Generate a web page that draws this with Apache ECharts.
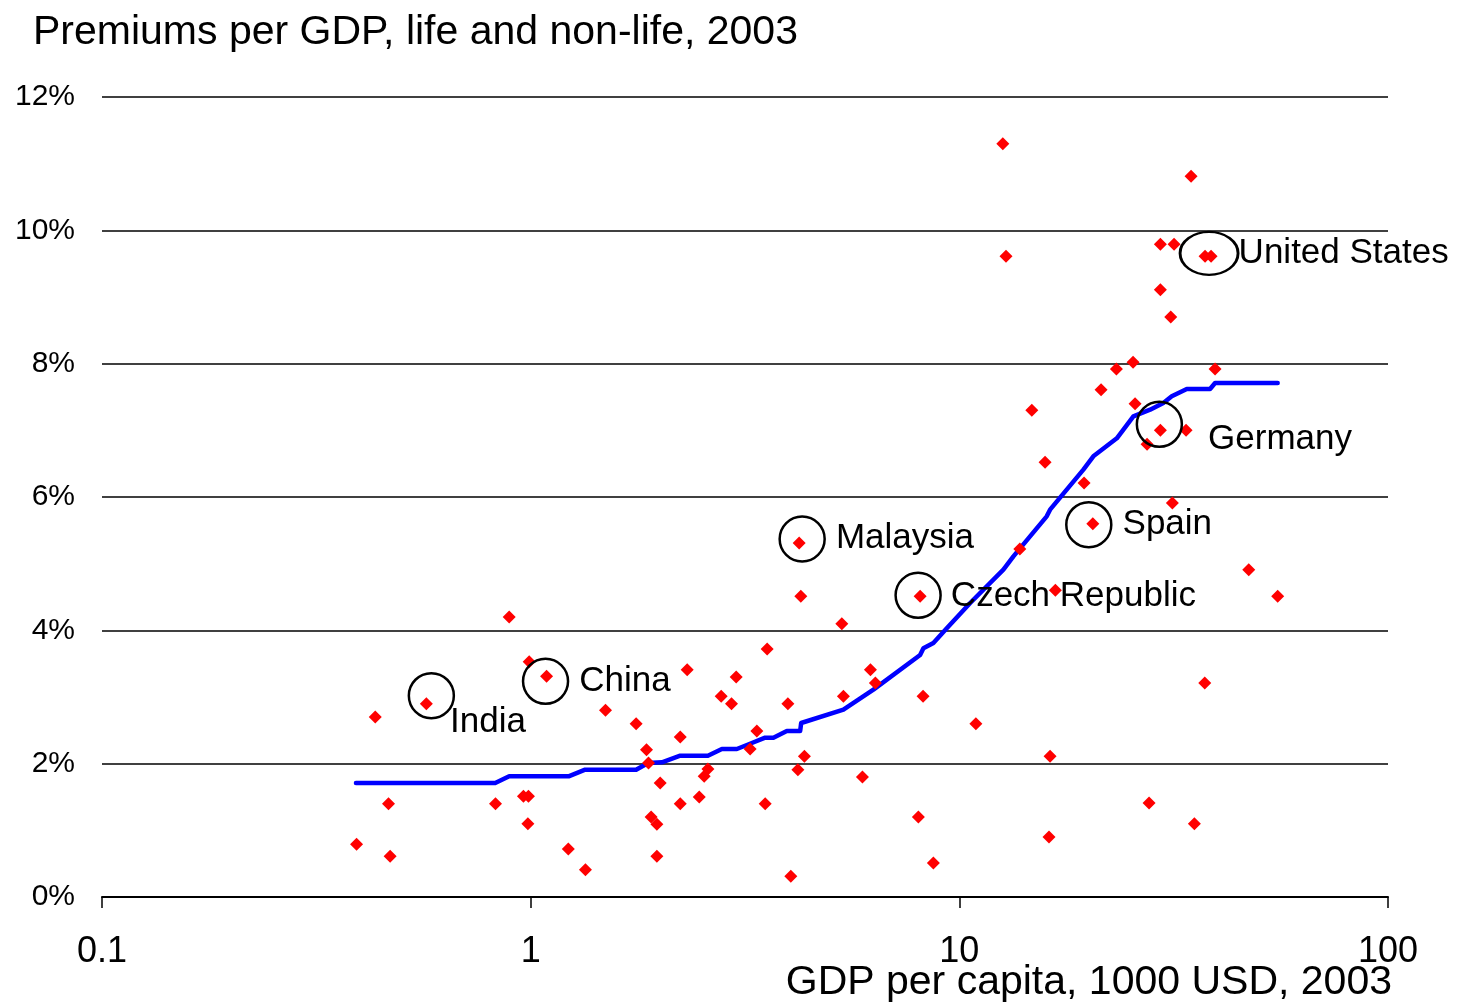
<!DOCTYPE html>
<html>
<head>
<meta charset="utf-8">
<script src="https://cdn.jsdelivr.net/npm/echarts@6/dist/echarts.min.js"></script>
<style>
  html, body { margin: 0; padding: 0; background: #ffffff; }
  #chart { width: 1472px; height: 1004px; }
</style>
</head>
<body>
<div id="chart"></div>
<script>
// GDP per capita (1000 USD, 2003) and total insurance premiums as % of GDP, one entry per country
const gdpPerCapita = [
  0.3925, 0.434, 0.466, 0.470, 0.571, 0.828, 0.891, 0.992, 0.962, 0.988,
  0.985, 1.089, 1.224, 1.342, 1.495, 1.762, 1.863, 1.883, 1.910, 1.970,
  1.970, 2.005, 2.233, 2.233, 2.318, 2.473, 2.540, 2.591, 2.783, 2.941,
  3.016, 3.251, 3.370, 3.524, 3.562, 3.981, 4.045, 4.201, 4.230, 4.268,
  4.351, 5.365, 5.319, 5.942, 6.203, 6.371, 8.026, 8.100, 8.231, 8.699,
  10.93, 12.63, 12.85, 13.84, 14.76, 15.85, 16.19, 16.28, 16.75, 19.54,
  20.48, 21.41, 23.25, 25.43, 25.70, 27.41, 27.71, 29.44, 29.44, 29.44,
  31.69, 31.13, 31.40, 33.80, 34.72, 35.34, 37.43, 38.66, 37.37, 39.50,
  47.33, 55.29
];
const premiumsPct = [
  0.79, 2.70, 1.40, 0.61, 2.90, 1.40, 4.20, 3.53, 1.51, 1.51,
  1.10, 3.31, 0.72, 0.41, 2.80, 2.60, 2.21, 2.01, 1.20, 1.09,
  0.61, 1.71, 1.40, 2.40, 3.41, 1.50, 1.81, 1.92, 3.01, 2.90,
  3.30, 2.22, 2.49, 1.40, 3.72, 2.90, 0.31, 1.91, 5.31, 4.51,
  2.11, 3.01, 4.10, 1.80, 3.41, 3.21, 1.20, 4.51, 3.01, 0.51,
  2.60, 11.30, 9.61, 5.22, 7.30, 6.52, 0.90, 2.11, 4.60, 6.21,
  5.60, 7.61, 7.92, 8.02, 7.40, 6.79, 1.41, 7.00, 9.79, 9.11,
  9.79, 8.70, 5.91, 7.00, 10.81, 1.10, 9.61, 9.61, 3.21, 7.92,
  4.91, 4.51
];

// Smoothed level of premiums along GDP per capita
const trendGdp = [
  0.3912, 0.8267, 0.891, 1.226, 1.340, 1.762, 1.880, 2.024, 2.233, 2.591,
  2.793, 3.027, 3.281, 3.524, 3.684, 3.959, 4.253, 4.276, 5.365, 6.303,
  8.100, 8.245, 8.699, 9.348, 10.60, 12.67, 13.37, 14.62, 15.99, 16.28,
  19.47, 20.54, 23.30, 25.47, 27.86, 29.92, 31.30, 33.93, 38.45, 39.50,
  55.29
];
const trendPct = [
  1.71, 1.71, 1.81, 1.81, 1.91, 1.91, 2.01, 2.02, 2.12, 2.12,
  2.22, 2.22, 2.31, 2.39, 2.39, 2.49, 2.49, 2.61, 2.81, 3.11,
  3.63, 3.73, 3.81, 4.03, 4.41, 4.91, 5.11, 5.41, 5.71, 5.81,
  6.41, 6.61, 6.88, 7.21, 7.31, 7.41, 7.51, 7.62, 7.62, 7.71,
  7.71
];

// Countries that are circled and named
const namedCountries = ['India', 'China', 'Malaysia', 'Czech Republic', 'Spain', 'Germany', 'United States'];
const namedGdp = [0.571, 1.089, 4.230, 8.100, 20.48, 29.44, 38.66];
const namedPct = [2.90, 3.31, 5.31, 4.51, 5.60, 7.00, 9.61];

// Y axis range (percent of GDP)
const yMin = 0, yMax = 12, yStep = 2;

// Marker ring and label placement per named country (pixels)
const ringLayout = {
  'India':          { size: [45, 45], offset: [5, -8], text: [20, 28] },
  'China':          { size: [45, 45], offset: [-1, 5],  text: [35, 1] },
  'Malaysia':       { size: [45, 45], offset: [3, -4],  text: [35, 1] },
  'Czech Republic': { size: [45, 45], offset: [-2, -1], text: [34, 2] },
  'Spain':          { size: [45, 45], offset: [-4, 1],  text: [35, 1] },
  'Germany':        { size: [45, 45], offset: [-1, -6], text: [50, 16] },
  'United States':  { size: [58, 43], offset: [-2, -3], text: [31, 1] }
};

const FONT = '"Liberation Sans", Arial, sans-serif';
const labelStyle = { fontFamily: FONT, fontSize: 35, color: '#000000' };

const chart = echarts.init(document.getElementById('chart'), null, { renderer: 'canvas' });

const ringData = namedCountries.map((name, i) => {
  const L = ringLayout[name];
  return {
    name: name,
    value: [namedGdp[i], namedPct[i]],
    symbolSize: L.size,
    symbolOffset: L.offset,
    label: Object.assign({
      show: true,
      formatter: name,
      position: [L.size[0] / 2 + L.text[0], L.size[1] / 2 + L.text[1]],
      align: 'left',
      verticalAlign: 'middle'
    }, labelStyle)
  };
});

chart.setOption({
  animation: false,
  backgroundColor: '#ffffff',
  title: [
    {
      text: 'Premiums per GDP, life and non-life, 2003',
      left: 33,
      top: 12,
      padding: 0,
      textStyle: { fontFamily: FONT, fontSize: 41, fontWeight: 'normal', color: '#000000' }
    },
    {
      // x axis caption, right-aligned under the axis end
      text: 'GDP per capita, 1000 USD, 2003',
      right: 80,
      top: 962,
      padding: 0,
      textStyle: { fontFamily: FONT, fontSize: 41, fontWeight: 'normal', color: '#000000' }
    }
  ],
  grid: {
    left: 102, right: 84, top: 97, bottom: 107,
    containLabel: false,
    outerBoundsMode: 'none'
  },
  xAxis: {
    type: 'log',
    logBase: 10,
    min: 0.1,
    max: 100,
    axisLine: { show: true, onZero: false, lineStyle: { color: '#000000', width: 2 } },
    axisTick: { show: true, inside: false, length: 11, lineStyle: { color: '#000000', width: 1.5 } },
    minorTick: { show: false },
    splitLine: { show: false },
    axisLabel: {
      fontFamily: FONT, fontSize: 36, color: '#000000', margin: 37,
      formatter: v => String(+v.toPrecision(3))
    }
  },
  yAxis: {
    type: 'value',
    min: yMin,
    max: yMax,
    interval: yStep,
    axisLine: { show: false },
    axisTick: { show: false },
    axisLabel: {
      fontFamily: FONT, fontSize: 30, color: '#000000', margin: 27,
      lineHeight: 30, padding: [6, 0, 0, 0], formatter: '{value}%'
    },
    splitLine: { show: true, lineStyle: { color: '#000000', width: 1.5 } }
  },
  series: [
    {
      type: 'line',
      data: trendGdp.map((g, i) => [g, trendPct[i]]),
      showSymbol: false,
      symbol: 'none',
      lineStyle: { color: '#0000ff', width: 4.5, cap: 'round', join: 'round', opacity: 1 },
      silent: true,
      z: 2
    },
    {
      type: 'scatter',
      data: gdpPerCapita.map((g, i) => [g, premiumsPct[i]]),
      symbol: 'diamond',
      symbolSize: 13,
      itemStyle: { color: '#ff0000', opacity: 1 },
      silent: true,
      z: 3
    },
    {
      type: 'scatter',
      data: ringData,
      symbol: 'circle',
      itemStyle: { color: 'rgba(0,0,0,0)', borderColor: '#000000', borderWidth: 2.5, opacity: 1 },
      label: labelStyle,
      silent: true,
      z: 4
    }
  ]
});
</script>
</body>
</html>
